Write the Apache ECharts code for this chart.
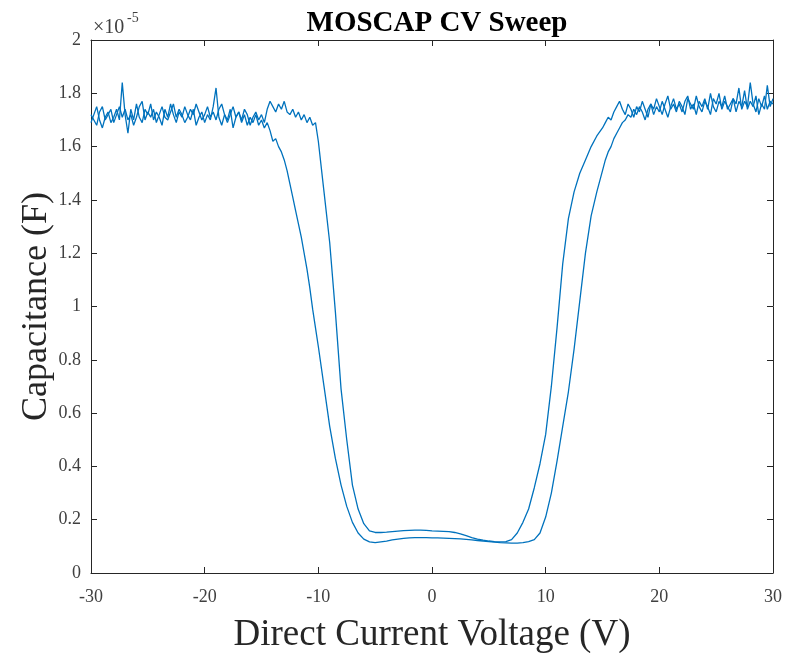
<!DOCTYPE html>
<html lang="en">

<head>
    <meta charset="UTF-8">
    <title>MOSCAP CV Sweep</title>
    <script src="https://cdn.jsdelivr.net/npm/echarts@6/dist/echarts.min.js"></script>
</head>

<body style="margin:0;">

    <div id="main" style="width: 786px;height: 653px;"></div>

    <script type="text/javascript">
        // gate voltage of the sweep (V): fine steps on the plateaus, 0.5 V in between
        var voltsLeft = [
            -30, -29.75, -29.5, -29.25, -29, -28.75, -28.5, -28.25,
            -28, -27.75, -27.5, -27.25, -27, -26.75, -26.5, -26.25,
            -26, -25.75, -25.5, -25.25, -25, -24.75, -24.5, -24.25,
            -24, -23.75, -23.5, -23.25, -23, -22.75, -22.5, -22.25,
            -22, -21.75, -21.5, -21.25, -21, -20.75, -20.5, -20.25,
            -20, -19.75, -19.5, -19.25, -19, -18.75, -18.5, -18.25,
            -18, -17.75, -17.5, -17.25, -17, -16.75, -16.5, -16.25,
            -16, -15.75, -15.5, -15.25, -15, -14.75, -14.5, -14.25,
            -14, -13.75, -13.5, -13.25, -13, -12.75, -12.5, -12.25,
            -12, -11.75, -11.5, -11.25, -11, -10.75, -10.5, -10.25,
            -10
        ];
        var voltsMid = [
            -9.5, -9, -8.5, -8, -7.5, -7, -6.5, -6, -5.5, -5,
            -4.5, -4, -3.5, -3, -2.5, -2, -1.5, -1, -0.5, 0,
            0.5, 1, 1.5, 2, 2.5, 3, 3.5, 4, 4.5, 5,
            5.5, 6, 6.5, 7, 7.5, 8, 8.5, 9, 9.5, 10,
            10.5, 11, 11.5, 12, 12.5, 13, 13.5, 14, 14.5
        ];
        var voltsRight = [
            15, 15.25, 15.5, 15.75, 16, 16.25, 16.5, 16.75,
            17, 17.25, 17.5, 17.75, 18, 18.25, 18.5, 18.75,
            19, 19.25, 19.5, 19.75, 20, 20.25, 20.5, 20.75,
            21, 21.25, 21.5, 21.75, 22, 22.25, 22.5, 22.75,
            23, 23.25, 23.5, 23.75, 24, 24.25, 24.5, 24.75,
            25, 25.25, 25.5, 25.75, 26, 26.25, 26.5, 26.75,
            27, 27.25, 27.5, 27.75, 28, 28.25, 28.5, 28.75,
            29, 29.25, 29.5, 29.75, 30
        ];

        // capacitance in units of 1e-5 F, wide loop (early drop, late rise)
        var capA = [
            1.69, 1.72, 1.75, 1.70, 1.67, 1.71, 1.73, 1.69,
            1.71, 1.74, 1.70, 1.84, 1.72, 1.65, 1.74, 1.70,
            1.76, 1.71, 1.69, 1.74, 1.72, 1.76, 1.70, 1.73,
            1.71, 1.68, 1.74, 1.71, 1.76, 1.72, 1.69, 1.73,
            1.71, 1.75, 1.72, 1.70, 1.74, 1.68, 1.71, 1.73,
            1.69, 1.72, 1.70, 1.75, 1.82, 1.71, 1.68, 1.72,
            1.70, 1.74, 1.67, 1.71, 1.73, 1.69, 1.72, 1.68,
            1.71, 1.69, 1.72, 1.68, 1.70, 1.67, 1.69, 1.66,
            1.62, 1.63, 1.60, 1.58, 1.55, 1.51, 1.46, 1.41,
            1.36, 1.31, 1.26, 1.20, 1.14, 1.07, 0.99, 0.92,
            0.85,
            // middle
            0.70, 0.55, 0.43, 0.33, 0.25, 0.19, 0.15, 0.127, 0.117, 0.114,
            0.117, 0.120, 0.124, 0.127, 0.130, 0.132, 0.133, 0.133, 0.133, 0.132,
            0.132, 0.131, 0.130, 0.129, 0.128, 0.126, 0.124, 0.122, 0.120, 0.118,
            0.116, 0.114, 0.113, 0.112, 0.112, 0.114, 0.118, 0.125, 0.15, 0.21,
            0.30, 0.42, 0.55, 0.68, 0.84, 1.02, 1.20, 1.34, 1.43,
            // right
            1.51, 1.55, 1.58, 1.60, 1.63, 1.65, 1.67, 1.69,
            1.70, 1.72, 1.71, 1.74, 1.72, 1.75, 1.73, 1.70,
            1.74, 1.76, 1.72, 1.75, 1.73, 1.77, 1.74, 1.71,
            1.75, 1.78, 1.74, 1.76, 1.73, 1.77, 1.79, 1.74,
            1.76, 1.72, 1.77, 1.75, 1.78, 1.74, 1.80, 1.75,
            1.73, 1.77, 1.75, 1.79, 1.74, 1.76, 1.78, 1.73,
            1.77, 1.75, 1.81, 1.74, 1.77, 1.75, 1.79, 1.72,
            1.76, 1.74, 1.83, 1.75, 1.78
        ];

        // capacitance in units of 1e-5 F, narrow loop (late drop, early rise)
        var capB = [
            1.72, 1.70, 1.68, 1.73, 1.75, 1.70, 1.72, 1.74,
            1.69, 1.72, 1.75, 1.71, 1.74, 1.70, 1.72, 1.68,
            1.71, 1.75, 1.77, 1.70, 1.73, 1.71, 1.74, 1.69,
            1.72, 1.75, 1.71, 1.70, 1.73, 1.76, 1.71, 1.74,
            1.72, 1.69, 1.71, 1.74, 1.72, 1.76, 1.73, 1.70,
            1.72, 1.75, 1.71, 1.73, 1.70, 1.74, 1.76, 1.72,
            1.69, 1.72, 1.75, 1.71, 1.73, 1.70, 1.74, 1.72,
            1.68, 1.71, 1.73, 1.70, 1.72, 1.69, 1.74, 1.77,
            1.75, 1.73, 1.76, 1.74, 1.77, 1.73, 1.72, 1.74,
            1.71, 1.73, 1.70, 1.72, 1.69, 1.71, 1.68, 1.69,
            1.62,
            // middle
            1.43, 1.24, 0.98, 0.69, 0.50, 0.33, 0.24, 0.185, 0.158, 0.152,
            0.152, 0.153, 0.155, 0.157, 0.159, 0.160, 0.161, 0.161, 0.160, 0.158,
            0.157, 0.156, 0.155, 0.152, 0.147, 0.140, 0.133, 0.127, 0.123, 0.120,
            0.118, 0.117, 0.118, 0.125, 0.15, 0.19, 0.24, 0.32, 0.41, 0.52,
            0.70, 0.92, 1.16, 1.33, 1.43, 1.50, 1.55, 1.60, 1.64,
            // right
            1.67, 1.69, 1.71, 1.70, 1.73, 1.75, 1.77, 1.74,
            1.72, 1.76, 1.74, 1.71, 1.75, 1.73, 1.77, 1.74,
            1.71, 1.76, 1.74, 1.78, 1.75, 1.72, 1.76, 1.79,
            1.74, 1.76, 1.73, 1.77, 1.75, 1.72, 1.78, 1.76,
            1.74, 1.79, 1.75, 1.73, 1.77, 1.75, 1.72, 1.78,
            1.76, 1.80, 1.74, 1.77, 1.75, 1.73, 1.78, 1.76,
            1.82, 1.74, 1.77, 1.75, 1.84, 1.76, 1.73, 1.78,
            1.75, 1.79, 1.74, 1.77, 1.76
        ];

        var volts = voltsLeft.concat(voltsMid, voltsRight);

        function pairs(ys) {
            return volts.map(function (v, i) { return [v, ys[i]]; });
        }

        var myChart = echarts.init(document.getElementById('main'));

        var serif = 'Liberation Serif';
        var axisCol = '#262626';
        var tickStyle = { inside: true, length: 6, lineStyle: { color: axisCol } };
        var lineStyle = { onZero: false, lineStyle: { color: axisCol, width: 1 } };

        var option = {
            animation: false,
            backgroundColor: '#fff',
            title: {
                text: 'MOSCAP CV Sweep',
                left: 432,
                top: 4,
                textAlign: 'center',
                textStyle: { fontFamily: serif, fontWeight: 'bold', fontSize: 29, color: '#000' }
            },
            grid: { left: 91, right: 13, top: 40, bottom: 80, containLabel: false, outerBoundsMode: 'none' },
            graphic: [{
                type: 'text',
                left: 93,
                top: 18,
                style: { text: '×10', fontFamily: serif, fontSize: 20, fill: '#404040' }
            }, {
                type: 'text',
                left: 127,
                top: 11,
                style: { text: '-5', fontFamily: serif, fontSize: 14, fill: '#404040' }
            }],
            xAxis: [{
                type: 'value',
                min: -30,
                max: 30,
                interval: 10,
                name: 'Direct Current Voltage (V)',
                nameLocation: 'middle',
                nameGap: 44,
                nameMoveOverlap: false,
                nameTextStyle: { fontFamily: serif, fontSize: 37, color: axisCol },
                axisLine: lineStyle,
                axisTick: tickStyle,
                axisLabel: { fontFamily: serif, fontSize: 18, color: '#404040', margin: 15 },
                splitLine: { show: false }
            }, {
                type: 'value',
                position: 'top',
                min: -30,
                max: 30,
                interval: 10,
                axisLine: lineStyle,
                axisTick: tickStyle,
                axisLabel: { show: false },
                splitLine: { show: false }
            }],
            yAxis: [{
                type: 'value',
                min: 0,
                max: 2,
                interval: 0.2,
                name: 'Capacitance (F)',
                nameLocation: 'middle',
                nameGap: 36,
                nameMoveOverlap: false,
                nameTextStyle: { fontFamily: serif, fontSize: 36, color: axisCol },
                axisLine: { show: true, onZero: false, lineStyle: { color: axisCol, width: 1 } },
                axisTick: { show: true, inside: true, length: 6, lineStyle: { color: axisCol } },
                axisLabel: { fontFamily: serif, fontSize: 18, color: '#404040', margin: 10 },
                splitLine: { show: false }
            }, {
                type: 'value',
                position: 'right',
                min: 0,
                max: 2,
                interval: 0.2,
                axisLine: { show: true, onZero: false, lineStyle: { color: axisCol, width: 1 } },
                axisTick: { show: true, inside: true, length: 6, lineStyle: { color: axisCol } },
                axisLabel: { show: false },
                splitLine: { show: false }
            }],
            series: [{
                name: 'wide',
                type: 'line',
                showSymbol: false,
                symbol: 'none',
                lineStyle: { color: '#0072BD', width: 1.3 },
                data: pairs(capA)
            }, {
                name: 'narrow',
                type: 'line',
                showSymbol: false,
                symbol: 'none',
                lineStyle: { color: '#0072BD', width: 1.3 },
                data: pairs(capB)
            }]
        };

        myChart.setOption(option);
    </script>

</body>

</html>
